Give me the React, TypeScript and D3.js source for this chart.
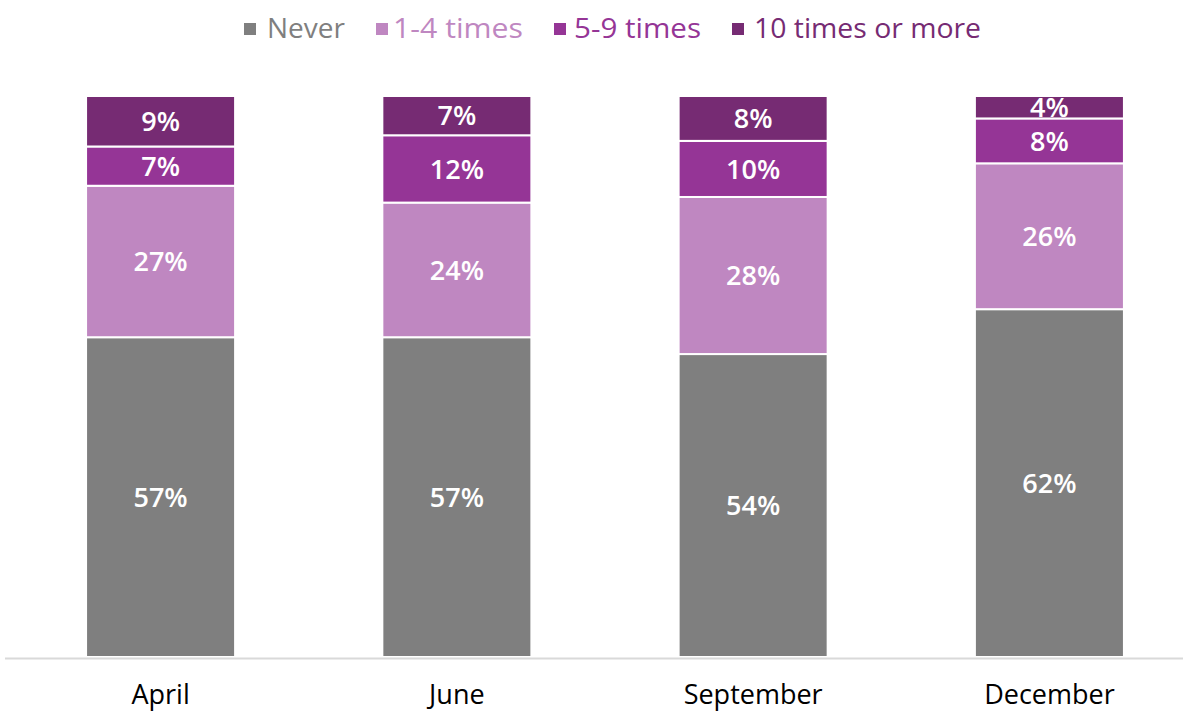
import React from "react";
import * as d3 from "d3";

const categories = ["April", "June", "September", "December"];
const seriesNames = ["Never", "1-4 times", "5-9 times", "10 times or more"];
const never = [57, 57, 54, 62];
const times1to4 = [27, 24, 28, 26];
const times5to9 = [7, 12, 10, 8];
const times10plus = [9, 7, 8, 4];
const colors = ["#7f7f7f", "#bf87c1", "#953596", "#762b73"];

const W = 1183;
const H = 711;

export default function App() {
  const seriesValues = [never, times1to4, times5to9, times10plus];
  const rows = categories.map((c, i) => {
    const r: any = { cat: c };
    seriesNames.forEach((s, j) => (r[s] = seriesValues[j][i]));
    return r;
  });
  const stack = d3.stack<any>().keys(seriesNames)(rows);

  const x = d3
    .scaleBand<string>()
    .domain(categories)
    .range([12, 1198])
    .paddingInner(0.497)
    .paddingOuter(0.25);
  const y = d3.scaleLinear().domain([0, 100]).range([657, 96]);

  const font = "'Open Sans', 'DejaVu Sans', sans-serif";

  const legendSq = [244, 376, 554, 732];
  const legendTx = [267, 393, 574, 754];
  const legendW = [78, 130, 127, 227];

  return (
    <svg
      width={W}
      height={H}
      style={{ position: "absolute", left: 0, top: 0, background: "#fff" }}
    >
      {stack.map((layer, j) => (
        <g key={seriesNames[j]}>
          {layer.map((d, i) => {
            const x0 = x(categories[i])!;
            const y0 = y(d[1]);
            const y1 = y(d[0]);
            return (
              <g key={i}>
                <rect
                  x={x0}
                  y={y0}
                  width={x.bandwidth()}
                  height={y1 - y0}
                  fill={colors[j]}
                  stroke="#fff"
                  strokeWidth={2}
                />
                <text
                  x={x0 + x.bandwidth() / 2}
                  y={(y0 + y1) / 2}
                  dy="0.36em"
                  textAnchor="middle"
                  fill="#fff"
                  fontFamily={font}
                  fontSize={27}
                  fontWeight={600}
                >
                  {`${d[1] - d[0]}%`}
                </text>
              </g>
            );
          })}
        </g>
      ))}
      <line x1={5} x2={W} y1={658.5} y2={658.5} stroke="#d9d9d9" strokeWidth={2} />
      {categories.map((c) => (
        <text
          key={c}
          x={x(c)! + x.bandwidth() / 2}
          y={704}
          textAnchor="middle"
          fill="#000"
          fontFamily={font}
          fontSize={27}
        >
          {c}
        </text>
      ))}
      {seriesNames.map((s, j) => (
        <g key={s}>
          <rect x={legendSq[j]} y={23} width={12} height={12} fill={colors[j]} />
          <text
            x={legendTx[j]}
            y={38}
            fill={colors[j]}
            fontFamily={font}
            fontSize={27}
            fontWeight={500}
            textLength={legendW[j]}
            lengthAdjust="spacingAndGlyphs"
          >
            {s}
          </text>
        </g>
      ))}
    </svg>
  );
}
